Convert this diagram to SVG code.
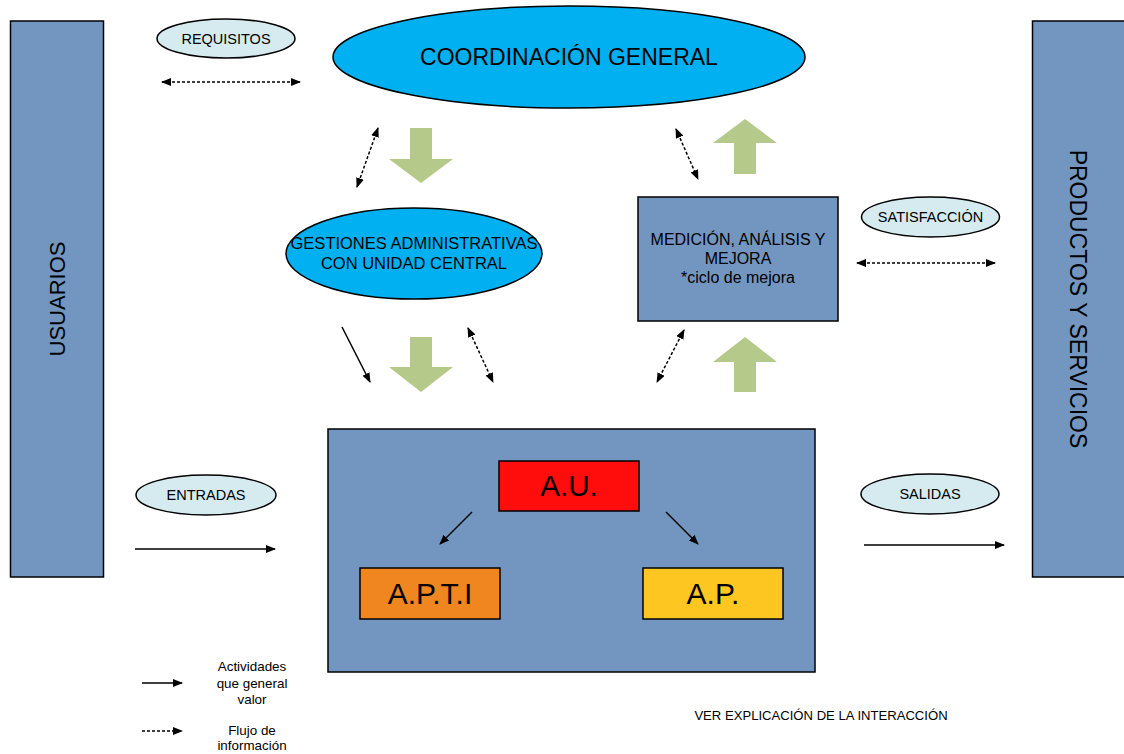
<svg xmlns="http://www.w3.org/2000/svg" width="1124" height="754" viewBox="0 0 1124 754">
<style>
text{font-family:"Liberation Sans",Arial,sans-serif;fill:#000;text-anchor:middle}
.box{fill:#7396c1;stroke:#000;stroke-width:1.5}
.lbl{fill:#d5ebf0;stroke:#000;stroke-width:1.5}
.ell{fill:#00b0f0;stroke:#000;stroke-width:1.5}
.solid{stroke:#000;stroke-width:1.5;fill:none;marker-end:url(#ah)}
.dot{stroke:#000;stroke-width:1.5;fill:none;stroke-dasharray:3,2;marker-start:url(#ah);marker-end:url(#ah)}
.green{fill:#b5c98b}
</style>
<defs>
<marker id="ah" markerUnits="userSpaceOnUse" markerWidth="10" markerHeight="8" refX="9" refY="4" orient="auto-start-reverse" viewBox="0 0 10 8">
<path d="M0,0 L10,4 L0,8 z" fill="#000"/>
</marker>
</defs>
<rect width="1124" height="754" fill="#fff"/>

<g id="usuarios">
<rect class="box" x="10.5" y="21" width="93" height="556"/>
<text transform="translate(65,299) rotate(-90)" font-size="22">USUARIOS</text>
</g>
<g id="productos">
<rect class="box" x="1032.5" y="21" width="95" height="556"/>
<text transform="translate(1070,299) rotate(90)" font-size="23">PRODUCTOS Y SERVICIOS</text>
</g>
<g id="requisitos">
<ellipse class="lbl" cx="226" cy="38.5" rx="69" ry="19.5"/>
<text x="226" y="43.5" font-size="14.5">REQUISITOS</text>
</g>
<g id="coordinacion">
<ellipse class="ell" cx="569" cy="57" rx="236" ry="51"/>
<text x="569" y="65" font-size="23">COORDINACIÓN GENERAL</text>
</g>
<g id="gestiones">
<ellipse class="ell" cx="414" cy="253.5" rx="128" ry="45.5"/>
<text x="414" y="249" font-size="16.5">GESTIONES ADMINISTRATIVAS</text>
<text x="414" y="269" font-size="16.5">CON UNIDAD CENTRAL</text>
</g>
<g id="medicion">
<rect class="box" x="638" y="197" width="200" height="124"/>
<text x="738" y="245" font-size="16">MEDICIÓN, ANÁLISIS Y</text>
<text x="738" y="264" font-size="16">MEJORA</text>
<text x="738" y="283" font-size="16">*ciclo de mejora</text>
</g>
<g id="satisfaccion">
<ellipse class="lbl" cx="930.5" cy="217" rx="69" ry="20"/>
<text x="930.5" y="222" font-size="14.5">SATISFACCIÓN</text>
</g>
<g id="entradas">
<ellipse class="lbl" cx="206" cy="495" rx="70" ry="20"/>
<text x="206" y="500" font-size="14.5">ENTRADAS</text>
</g>
<g id="salidas">
<ellipse class="lbl" cx="930" cy="494" rx="69" ry="20"/>
<text x="930" y="499" font-size="14.5">SALIDAS</text>
</g>
<g id="proceso">
<rect class="box" x="328" y="429" width="487" height="243"/>
</g>
<g id="au">
<rect x="499" y="461" width="140" height="50" fill="#ff0c0c" stroke="#000" stroke-width="1.5"/>
<text x="569" y="496" font-size="29.5">A.U.</text>
</g>
<g id="apti">
<rect x="360" y="568" width="140" height="51" fill="#f0861f" stroke="#000" stroke-width="1.5"/>
<text x="430" y="604" font-size="30">A.P.T.I</text>
</g>
<g id="ap">
<rect x="643" y="568" width="140" height="51" fill="#fdc621" stroke="#000" stroke-width="1.5"/>
<text x="713" y="604" font-size="30">A.P.</text>
</g>

<g id="connectors">
<line class="dot" x1="162" y1="82" x2="300" y2="82"/>
<line class="dot" x1="378" y1="128" x2="357" y2="187"/>
<line class="solid" x1="342" y1="327" x2="370" y2="382"/>
<line class="dot" x1="468" y1="328" x2="493" y2="382"/>
<line class="dot" x1="676" y1="129" x2="698" y2="179"/>
<line class="dot" x1="684" y1="330" x2="657" y2="382"/>
<line class="dot" x1="857" y1="263" x2="995" y2="263"/>
<line class="solid" x1="135" y1="549" x2="275" y2="549"/>
<line class="solid" x1="864" y1="545" x2="1004" y2="545"/>
<line class="solid" x1="472" y1="512" x2="440" y2="544"/>
<line class="solid" x1="666" y1="512" x2="698" y2="544"/>
<polygon class="green" points="410,128 432,128 432,159 453,159 421,183 389,159 410,159"/>
<polygon class="green" points="410,337 432,337 432,367 453,367 421,392 389,367 410,367"/>
<polygon class="green" points="734,174 756,174 756,143 777,143 745,119 713,143 734,143"/>
<polygon class="green" points="734,392 756,392 756,362 777,362 745,337 713,362 734,362"/>
</g>

<g id="legend">
<line class="solid" x1="142" y1="683" x2="182" y2="683"/>
<line stroke="#000" stroke-width="1.5" stroke-dasharray="3,2" marker-end="url(#ah)" x1="142" y1="731" x2="182" y2="731"/>
<text x="252" y="671" font-size="13.4">Actividades</text>
<text x="252" y="688" font-size="13.4">que general</text>
<text x="252" y="704" font-size="13.4">valor</text>
<text x="252" y="735" font-size="13.4">Flujo de</text>
<text x="252" y="750" font-size="13.4">información</text>
<text x="821" y="720" font-size="13.1">VER EXPLICACIÓN DE LA INTERACCIÓN</text>
</g>
</svg>
